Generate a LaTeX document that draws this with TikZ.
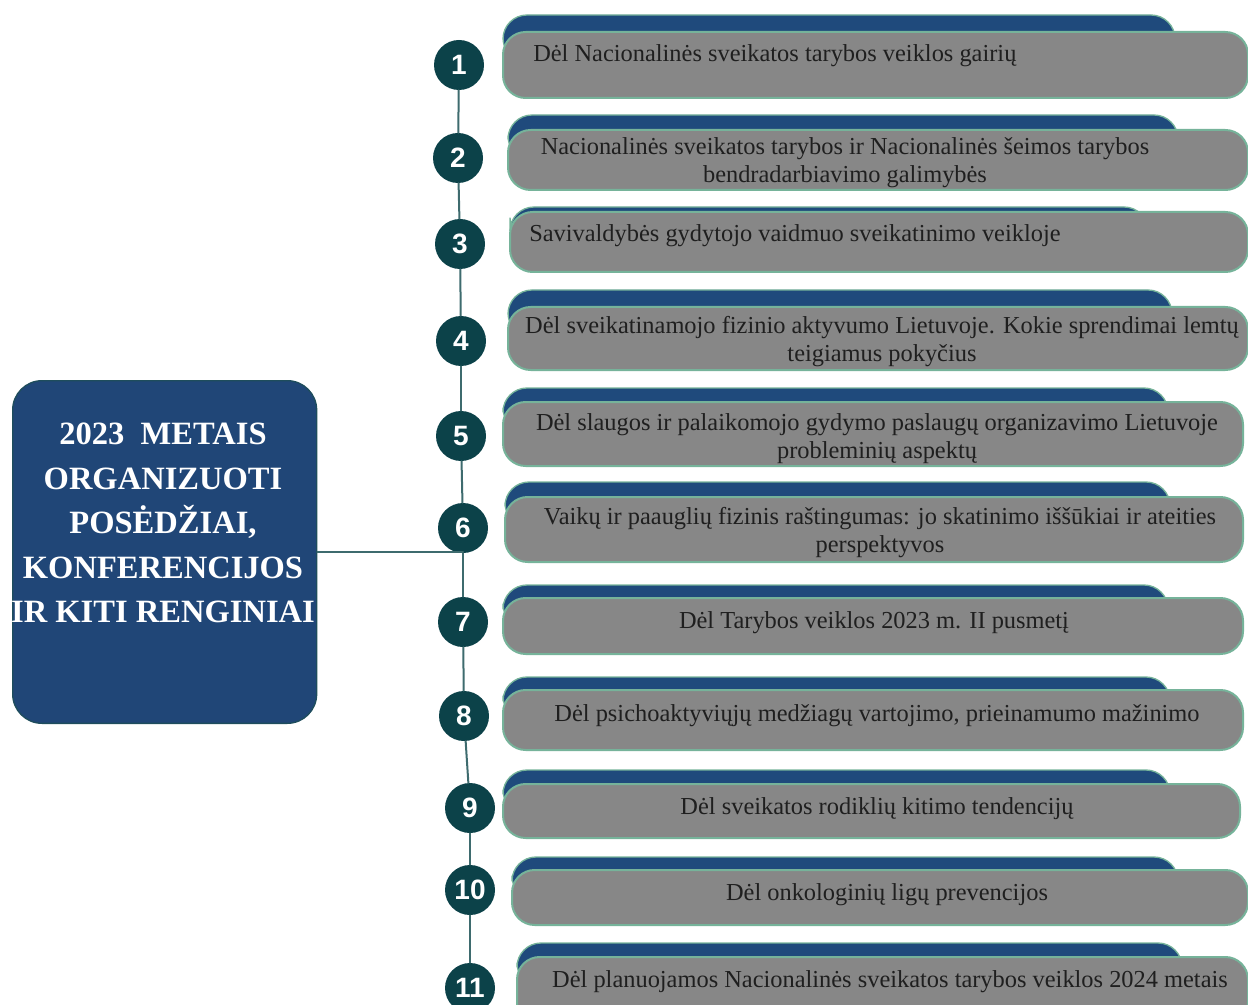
\documentclass[tikz,border=0pt]{standalone}
\usepackage{fontspec}
\setmainfont{Liberation Serif}
\newfontfamily\barfont{Liberation Serif}
\newfontfamily\numfont{Liberation Sans}
\definecolor{tabblue}{HTML}{1F4A7C}
\definecolor{bargrey}{HTML}{878787}
\definecolor{edgegreen}{HTML}{76B39A}
\definecolor{numteal}{HTML}{0C4249}
\definecolor{linkteal}{HTML}{3E6B6E}
\definecolor{mainblue}{HTML}{204677}
\definecolor{mainedge}{HTML}{1E4D5C}
\begin{document}
\begin{tikzpicture}[x=0.75pt,y=-0.75pt, line join=round, line cap=round,
	num/.style={circle, fill=numteal, text=white, minimum size=37.5pt, inner sep=0pt, font=\numfont\bfseries\fontsize{21}{21}\selectfont},
	bartext/.style={text=black!88, font=\barfont\fontsize{18.3}{21}\selectfont, align=center, inner sep=0pt},
	tabbar/.style={fill=tabblue, draw=edgegreen, line width=1pt, rounded corners=18pt},
	greybar/.style={fill=bargrey, draw=edgegreen, line width=1.5pt, rounded corners=17pt},
	link/.style={draw=linkteal, line width=1.5pt}]
	\useasboundingbox (0,0) rectangle (1248,1005);
	% left title box
	\node[draw=mainedge, fill=mainblue, line width=1pt, rounded corners=22pt, minimum width=228pt, minimum height=257pt, anchor=north west] (main) at (12,380) {};
	\node[text=white, align=center, inner sep=0pt, font=\barfont\bfseries\fontsize{24.4}{33.4}\selectfont] (title) at (163,523)
		{2023\ \ METAIS\\ORGANIZUOTI\\POSĖDŽIAI,\\KONFERENCIJOS\\IR KITI RENGINIAI};
	% bars
	\foreach \l/\tt/\tr/\gt/\gb/\r in {503/15/1175/32/98/1248, 508/115/1178/130/190/1248,
		510/207/1148/212/272/1248, 508/290/1172/307/370/1248, 503/388/1168/402/466/1243,
		505/482/1170/497/562/1243, 503/585/1168/598/654/1243, 503/677/1170/690/750/1243,
		503/770/1170/784/838/1240, 512/857/1178/870/925/1248, 517/943/1182/957/1025/1248}{
		\draw[tabbar] (\l,\tt) rectangle (\tr,\gt+30);
		\draw[greybar] (\l,\gt) rectangle (\r,\gb);
	}
	\node[bartext, anchor=west] (t1) at (533,56) {Dėl Nacionalinės sveikatos tarybos veiklos gairių};
	\node[bartext] (t2) at (845,163) {Nacionalinės sveikatos tarybos ir Nacionalinės šeimos tarybos\\bendradarbiavimo galimybės};
	\node[bartext, anchor=west] (t3) at (529,236) {Savivaldybės gydytojo vaidmuo sveikatinimo veikloje};
	\node[bartext] (t4) at (882,342) {Dėl sveikatinamojo fizinio aktyvumo Lietuvoje. Kokie sprendimai lemtų\\teigiamus pokyčius};
	\node[bartext] (t5) at (877,439) {Dėl slaugos ir palaikomojo gydymo paslaugų organizavimo Lietuvoje\\probleminių aspektų};
	\node[bartext] (t6) at (880,533) {Vaikų ir paauglių fizinis raštingumas: jo skatinimo iššūkiai ir ateities\\perspektyvos};
	\node[bartext] (t7) at (874,623) {Dėl Tarybos veiklos 2023 m. II pusmetį};
	\node[bartext] (t8) at (877,716) {Dėl psichoaktyviųjų medžiagų vartojimo, prieinamumo mažinimo};
	\node[bartext] (t9) at (877,809) {Dėl sveikatos rodiklių kitimo tendencijų};
	\node[bartext] (t10) at (887,895) {Dėl onkologinių ligų prevencijos};
	\node[bartext] (t11) at (890,982) {Dėl planuojamos Nacionalinės sveikatos tarybos veiklos 2024 metais};
	% timeline
	\foreach \i/\x/\y in {1/459/65, 2/458/158, 3/460/244, 4/461/341, 5/461/436, 6/463/528,
		7/463/622, 8/464/716, 9/470/808, 10/470/890, 11/470/988}{
		\node[num] (c\i) at (\x,\y) {\i};
	}
	\foreach \i in {1,...,10}{
		\pgfmathtruncatemacro\j{\i+1}
		\draw[link] (c\i) -- (c\j);
	}
	\draw[link] (main.east) -- (main.east -| c6);
\end{tikzpicture}
\end{document}
